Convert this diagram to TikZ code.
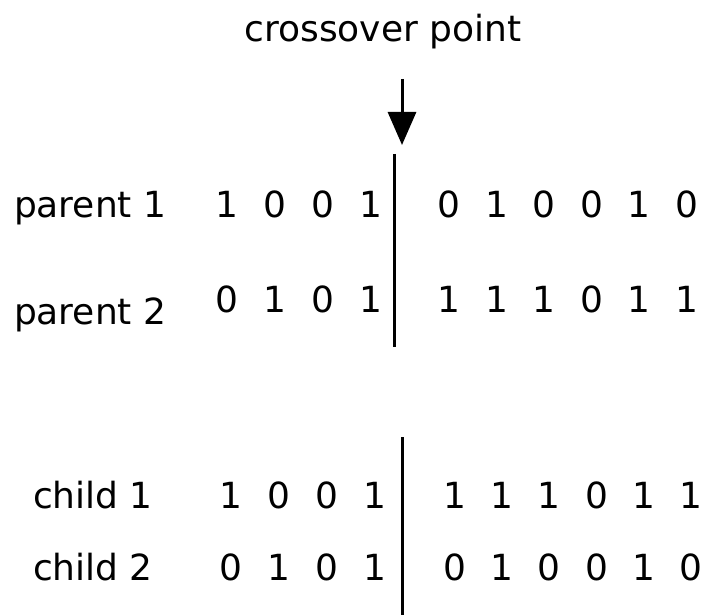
\documentclass[tikz,border=0pt]{standalone}
\usepackage{fontspec}
\setmainfont{DejaVu Sans}
\usetikzlibrary{arrows.meta}
\begin{document}
\begin{tikzpicture}[x=1pt,y=-1pt,
  txt/.style={inner sep=0pt,outer sep=0pt,font=\fontsize{36}{42}\selectfont},
  lbl/.style={txt,anchor=base west},
  bit/.style={txt,anchor=base},
  cut/.style={line width=3pt},
  pointer/.style={line width=3pt,-{Triangle[length=33pt,width=28pt]}}]
\useasboundingbox[fill=white] (0,0) rectangle (712,615);
% title
\node[txt,anchor=base] (title) at (383,42) {crossover point};
\coordinate (atop) at (402,79);
\coordinate (atip) at (402,145);
\draw[pointer] (atop) -- (atip);
% labels
\node[lbl] (p1) at (14,217) {parent 1};
\node[lbl] (p2) at (14,324) {parent 2};
\node[lbl] (c1) at (33,508) {child 1};
\node[lbl] (c2) at (33,580) {child 2};
% parent 1 bits
\foreach \v [count=\i] in {1,0,0,1}
  \node[bit] (p1L\i) at ({227+48*(\i-1)},217) {\v};
\foreach \v [count=\i] in {0,1,0,0,1,0}
  \node[bit] (p1R\i) at ({449+47.6*(\i-1)},217) {\v};
% parent 2 bits
\foreach \v [count=\i] in {0,1,0,1}
  \node[bit] (p2L\i) at ({227+48*(\i-1)},312) {\v};
\foreach \v [count=\i] in {1,1,1,0,1,1}
  \node[bit] (p2R\i) at ({449+47.6*(\i-1)},312) {\v};
% child 1 bits
\foreach \v [count=\i] in {1,0,0,1}
  \node[bit] (c1L\i) at ({231+48*(\i-1)},508) {\v};
\foreach \v [count=\i] in {1,1,1,0,1,1}
  \node[bit] (c1R\i) at ({455+47.2*(\i-1)},508) {\v};
% child 2 bits
\foreach \v [count=\i] in {0,1,0,1}
  \node[bit] (c2L\i) at ({231+48*(\i-1)},580) {\v};
\foreach \v [count=\i] in {0,1,0,0,1,0}
  \node[bit] (c2R\i) at ({455+47.2*(\i-1)},580) {\v};
% cut lines
\coordinate (u1) at (394,154);
\coordinate (u2) at (394,347);
\draw[cut] (u1) -- (u2);
\coordinate (l1) at (402,437);
\coordinate (l2) at (402,615);
\draw[cut] (l1) -- (l2);
\end{tikzpicture}
\end{document}
